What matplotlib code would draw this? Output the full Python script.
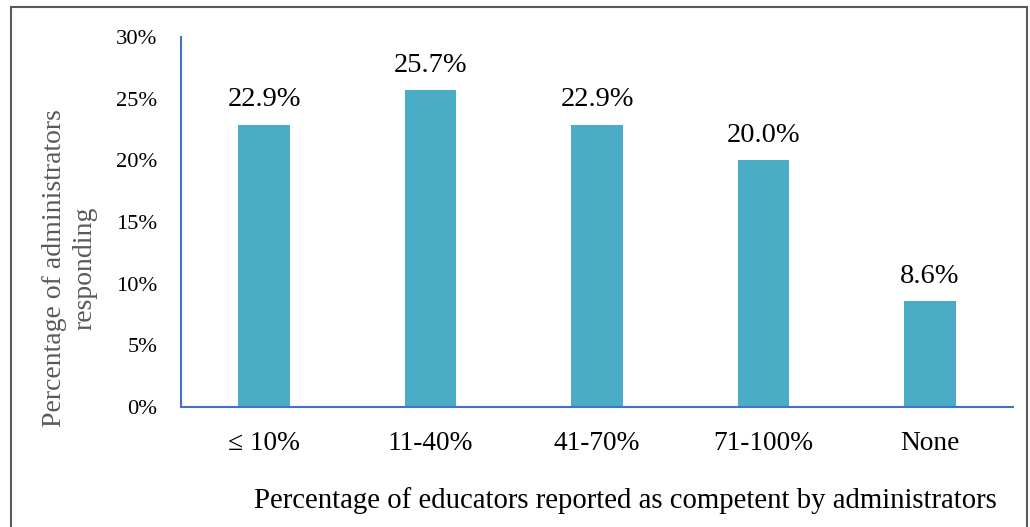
import matplotlib
matplotlib.use("Agg")
import matplotlib.pyplot as plt
from matplotlib.patches import Rectangle

categories = ["≤ 10%", "11-40%", "41-70%", "71-100%", "None"]
values = [22.9, 25.7, 22.9, 20.0, 8.6]
yticks = [0, 5, 10, 15, 20, 25, 30]
ytick_labels = ["0%", "5%", "10%", "15%", "20%", "25%", "30%"]

plt.rcParams['font.family'] = ['Liberation Serif', 'DejaVu Serif']

fig = plt.figure(figsize=(10.30, 5.27), dpi=100)
ax = fig.add_axes([181/1030, 1-407/527, (1013-181)/1030, (407-37)/527])

x = list(range(len(categories)))
ax.bar(x, values, width=0.31, color="#4BACC6", zorder=2)
for xi, v in zip(x, values):
    ax.text(xi, v + 1.0, f"{v:.1f}%", ha="center", va="bottom", fontsize=20.5, color="black")

ax.set_xlim(-0.5, len(categories) - 0.5)
ax.set_ylim(0, 30)
ax.set_yticks(yticks)
ax.set_yticklabels(ytick_labels, fontsize=16.2)
ax.set_xticks(x)
ax.set_xticklabels(categories, fontsize=19.7)
ax.tick_params(axis="both", length=0)
ax.tick_params(axis="y", pad=17)
ax.tick_params(axis="x", pad=17)
for s in ["top", "right"]:
    ax.spines[s].set_visible(False)
for s in ["left", "bottom"]:
    ax.spines[s].set_color("#4472C4")
    ax.spines[s].set_linewidth(1.5)

fig.text(70/1030, 1-268/527, "Percentage of administrators\nresponding", rotation=90,
         ha="center", va="center", fontsize=20, color="#595959", linespacing=1.3)
fig.text(625/1030, 1-501/527, "Percentage of educators reported as competent by administrators",
         ha="center", va="center", fontsize=20.7, color="black")

fig.patches.append(Rectangle((11/1030, -0.05), (1027-11)/1030, 1-7/527+0.05,
                             transform=fig.transFigure, fill=False,
                             edgecolor="#595959", linewidth=1.5))

fig.savefig("out.png", dpi=100)
